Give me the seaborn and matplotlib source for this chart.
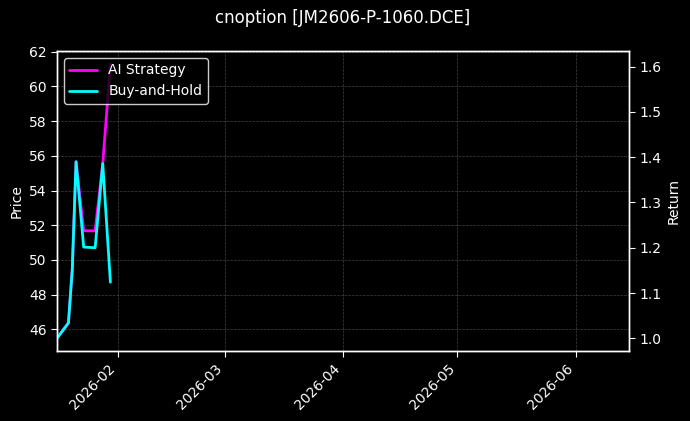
import matplotlib
matplotlib.use("Agg")
import matplotlib.pyplot as plt
import matplotlib.dates as mdates
import numpy as np
import pandas as pd
import seaborn as sns

# valeurs
dates = pd.to_datetime(["2026-01-16", "2026-01-19", "2026-01-20", "2026-01-21",
                        "2026-01-23", "2026-01-26", "2026-01-28", "2026-01-30"])
ai_strategy = [1.000, 1.034, 1.151, 1.390, 1.2375, 1.2375, 1.386, 1.606]
buy_hold = [1.000, 1.034, 1.151, 1.390, 1.2015, 1.200, 1.386, 1.124]

titre = "cnoption [JM2606-P-1060.DCE]"
x_range = pd.to_datetime(["2026-01-16", "2026-06-15"])
price_lim = (44.77, 62.04)
return_lim = (0.9726, 1.6347)

df = pd.DataFrame({"date": dates, "ai": ai_strategy, "bh": buy_hold})

plt.style.use("dark_background")
sns.set_style("dark", {"axes.facecolor": "black", "figure.facecolor": "black"})
plt.rcParams["font.family"] = ["DejaVu Sans"]
plt.rcParams["text.color"] = "white"
plt.rcParams["axes.labelcolor"] = "white"
plt.rcParams["xtick.color"] = "white"
plt.rcParams["ytick.color"] = "white"

fig, ax1 = plt.subplots(figsize=(6.9, 4.21), dpi=100)
fig.subplots_adjust(left=0.0826, right=0.9116, top=0.8789, bottom=0.167)
ax1.set_facecolor("black")
ax1.set_ylabel("Price")
ax1.set_ylim(*price_lim)
ax1.set_yticks(np.arange(46, 63, 2))
ax1.grid(True, color="gray", linestyle="--", linewidth=0.5, alpha=0.5)

ax2 = ax1.twinx()
sns.lineplot(data=df, x="date", y="ai", ax=ax2, color="#ff00ff", linewidth=2, label="AI Strategy")
sns.lineplot(data=df, x="date", y="bh", ax=ax2, color="#00ffff", linewidth=2, label="Buy-and-Hold")
ax2.set_ylim(*return_lim)
ax2.set_ylabel("Return")
ax2.set_xlabel("")
ax1.set_xlabel("")
ax2.grid(False)

ax1.set_xlim(x_range[0], x_range[1])
ax1.xaxis.set_major_locator(mdates.MonthLocator())
ax1.xaxis.set_major_formatter(mdates.DateFormatter("%Y-%m"))
for lab in ax1.get_xticklabels():
    lab.set_rotation(45)
    lab.set_ha("right")

for ax in (ax1, ax2):
    ax.tick_params(axis="both", which="both", length=4, color="white", left=(ax is ax1),
                   right=(ax is ax2), bottom=True)
    for s in ax.spines.values():
        s.set_color("white")
        s.set_linewidth(1)

leg = ax2.legend(loc="upper left", facecolor="black", edgecolor="white", framealpha=0.8)
for t in leg.get_texts():
    t.set_color("white")

fig.suptitle(titre, x=0.497, y=0.957, va="center", fontsize=12, color="white")
fig.savefig("out.png", dpi=100, facecolor="black")
